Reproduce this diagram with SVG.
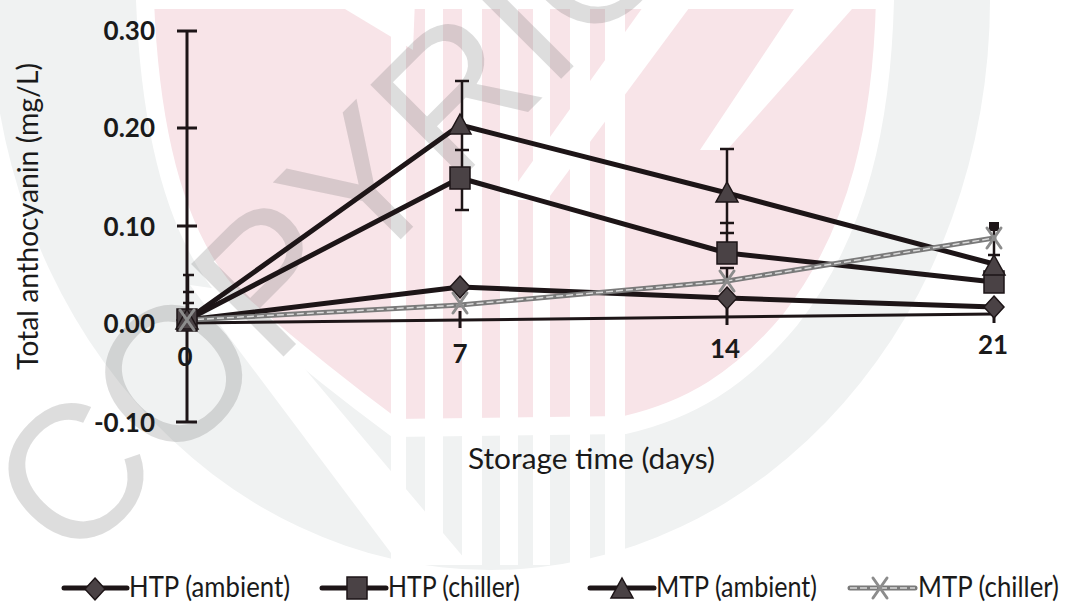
<svg xmlns="http://www.w3.org/2000/svg" xmlns:xlink="http://www.w3.org/1999/xlink" width="1085" height="608" viewBox="0 0 1085 608">
<style>
.wm-gray{fill:#f0f2f2}
.wm-pink{fill:#f8e4e8;stroke:#ffffff;stroke-width:18}
.wm-white{fill:#ffffff}
.wm-text{font-family:"Liberation Sans",Arial,sans-serif;font-size:190px;fill:#646464;fill-opacity:0.22}
.axis{stroke:#1d1517;stroke-width:3;fill:none}
.tick{font-family:Lato,"Liberation Sans",sans-serif;font-weight:700;font-size:26px;fill:#1a1a1a}
.title{font-family:Lato,"Liberation Sans",sans-serif;font-size:28px;fill:#1a1a1a}
.leg{font-family:Lato,"Liberation Sans",sans-serif;font-size:28px;fill:#1a1a1a}
.line{stroke:#1d1517;stroke-width:5;fill:none;stroke-linejoin:round;stroke-linecap:round}
.mline{stroke:#7a7a7a;stroke-width:5;fill:none;stroke-linecap:round}
.mline-in{stroke:#d9d9d9;stroke-width:1.5;fill:none;stroke-dasharray:7 3}
.err{stroke:#1d1517;stroke-width:2.5;fill:none}
.mk{fill:#4a4245;stroke:#1d1517;stroke-width:1.5}
.mkx{stroke:#8c8c8c;stroke-width:3;fill:none;stroke-linecap:round}
</style>
<defs>
<path id="diamond" class="mk" d="M0,-11 L10,0 L0,11 L-10,0 Z"/>
<path id="square" class="mk" d="M-10,-11 H10 V11 H-10 Z"/>
<path id="triangle" class="mk" d="M0,-11 L11,9 L-11,9 Z"/>
<path id="xmark" class="mkx" d="M-7,-10 L7,10 M-7,10 L7,-10"/>
</defs>

<g id="watermark">
<ellipse class="wm-gray" cx="490" cy="0" rx="500" ry="570"/>
<path class="wm-pink" d="M145,0 L885,0 C882,120 860,230 790,320 C740,380 690,410 625,425 L395,428 C330,380 270,330 225,290 C175,230 150,130 145,0 Z"/>
<rect class="wm-white" x="391" y="0" width="15" height="565"/>
<rect class="wm-white" x="425" y="0" width="18" height="565"/>
<rect class="wm-white" x="462" y="0" width="20" height="565"/>
<rect class="wm-white" x="500" y="0" width="18" height="565"/>
<rect class="wm-white" x="533" y="0" width="17" height="565"/>
<rect class="wm-white" x="570" y="0" width="20" height="565"/>
<rect class="wm-white" x="605" y="0" width="20" height="565"/>
<polygon class="wm-white" points="648,0 695,0 547,200 505,200"/>
<polygon class="wm-white" points="800,0 860,0 727,150 700,150"/>
<polygon class="wm-white" points="330,0 415,0 413,50"/>
<polygon class="wm-white" points="190,285 240,292 470,565 400,565"/>
<text class="wm-text" transform="translate(71,569) rotate(-45)">COPYRIGHT</text>
</g>

<g id="axes">
<line class="axis" x1="187" y1="30" x2="187" y2="422"/>
<line class="axis" x1="177" y1="31" x2="197" y2="31"/>
<line class="axis" x1="177" y1="128" x2="197" y2="128"/>
<line class="axis" x1="177" y1="226" x2="197" y2="226"/>
<line class="axis" x1="177" y1="323" x2="197" y2="323"/>
<line class="axis" x1="176" y1="422" x2="197" y2="422"/>
<line class="axis" x1="187" y1="323" x2="994" y2="314" stroke-width="2.5"/>
<line class="axis" x1="460" y1="311" x2="460" y2="328"/>
<line class="axis" x1="727" y1="308" x2="727" y2="325"/>
<line class="axis" x1="994" y1="306" x2="994" y2="323"/>
<text class="tick" x="155" y="40" text-anchor="end">0.30</text>
<text class="tick" x="155" y="137" text-anchor="end">0.20</text>
<text class="tick" x="155" y="236" text-anchor="end">0.10</text>
<text class="tick" x="155" y="333" text-anchor="end">0.00</text>
<text class="tick" x="155" y="432" text-anchor="end">-0.10</text>
<text class="tick" x="185" y="366" text-anchor="middle">0</text>
<text class="tick" x="460" y="363" text-anchor="middle">7</text>
<text class="tick" x="725" y="358" text-anchor="middle">14</text>
<text class="tick" x="993" y="354" text-anchor="middle">21</text>
<text class="title" transform="translate(38,216.5) rotate(-90)" text-anchor="middle" textLength="307" lengthAdjust="spacingAndGlyphs">Total anthocyanin (mg/L)</text>
<text class="title" x="468" y="469" textLength="247" lengthAdjust="spacingAndGlyphs">Storage time (days)</text>
</g>

<g id="error-bars">
<line class="err" x1="188" y1="275" x2="188" y2="322"/>
<line class="err" x1="183" y1="275" x2="194" y2="275"/>
<line class="err" x1="183" y1="292" x2="194" y2="292"/>
<line class="err" x1="183" y1="303" x2="194" y2="303"/>
<line class="err" x1="462" y1="81" x2="462" y2="210"/>
<line class="err" x1="455" y1="81" x2="469" y2="81"/>
<line class="err" x1="455" y1="150" x2="469" y2="150"/>
<line class="err" x1="455" y1="210" x2="469" y2="210"/>
<line class="err" x1="727" y1="149" x2="727" y2="250"/>
<line class="err" x1="720" y1="149" x2="734" y2="149"/>
<line class="err" x1="720" y1="223" x2="734" y2="223"/>
<line class="err" x1="720" y1="233" x2="734" y2="233"/>
<line class="err" x1="727" y1="268" x2="727" y2="280"/>
<line class="err" x1="720" y1="268" x2="734" y2="268"/>
<line class="err" x1="994" y1="226" x2="994" y2="262"/>
<rect x="989" y="222" width="10" height="9" fill="#1d1517"/>
<line class="err" x1="988" y1="255" x2="1000" y2="255"/>
</g>

<g id="connectors">
<polyline class="line" points="187,320 460,287 727,298 994,307"/>
<polyline class="line" points="187,320 460,178 727,253 994,282"/>
<polyline class="line" points="187,320 460,125 727,193 994,264"/>
<polyline class="mline" points="187,320 460,305 727,281 994,238"/>
<polyline class="mline-in" points="187,320 460,305 727,281 994,238"/>
</g>

<g id="series-htp-ambient">
<use xlink:href="#diamond" x="187" y="320"/>
<use xlink:href="#diamond" x="460" y="287"/>
<use xlink:href="#diamond" x="727" y="298"/>
<use xlink:href="#diamond" x="994" y="307"/>
</g>
<g id="series-htp-chiller">
<use xlink:href="#square" x="187" y="320"/>
<use xlink:href="#square" x="460" y="178"/>
<use xlink:href="#square" x="727" y="253"/>
<use xlink:href="#square" x="994" y="282"/>
</g>
<g id="series-mtp-ambient">
<use xlink:href="#triangle" x="187" y="320"/>
<use xlink:href="#triangle" x="460" y="125"/>
<use xlink:href="#triangle" x="727" y="193"/>
<use xlink:href="#triangle" x="994" y="266"/>
</g>
<g id="series-mtp-chiller">
<use xlink:href="#xmark" x="187" y="320"/>
<use xlink:href="#xmark" x="460" y="303"/>
<use xlink:href="#xmark" x="727" y="281"/>
<use xlink:href="#xmark" x="994" y="238"/>
</g>

<g id="legend">
<g id="legend-htp-ambient">
<line class="line" x1="64" y1="588" x2="127" y2="588" stroke-width="6"/>
<use xlink:href="#diamond" x="95" y="589"/>
<text class="leg" x="129" y="597" textLength="161" lengthAdjust="spacingAndGlyphs">HTP (ambient)</text>
</g>
<g id="legend-htp-chiller">
<line class="line" x1="322" y1="588" x2="386" y2="588" stroke-width="6"/>
<use xlink:href="#square" x="357" y="588"/>
<text class="leg" x="388" y="597" textLength="132" lengthAdjust="spacingAndGlyphs">HTP (chiller)</text>
</g>
<g id="legend-mtp-ambient">
<line class="line" x1="590" y1="588" x2="654" y2="588" stroke-width="6"/>
<use xlink:href="#triangle" x="622" y="589"/>
<text class="leg" x="656" y="597" textLength="161" lengthAdjust="spacingAndGlyphs">MTP (ambient)</text>
</g>
<g id="legend-mtp-chiller">
<line class="mline" x1="850" y1="588" x2="915" y2="588"/>
<line class="mline-in" x1="850" y1="588" x2="915" y2="588"/>
<use xlink:href="#xmark" x="880" y="588"/>
<text class="leg" x="918" y="597" textLength="141" lengthAdjust="spacingAndGlyphs">MTP (chiller)</text>
</g>
</g>
</svg>
